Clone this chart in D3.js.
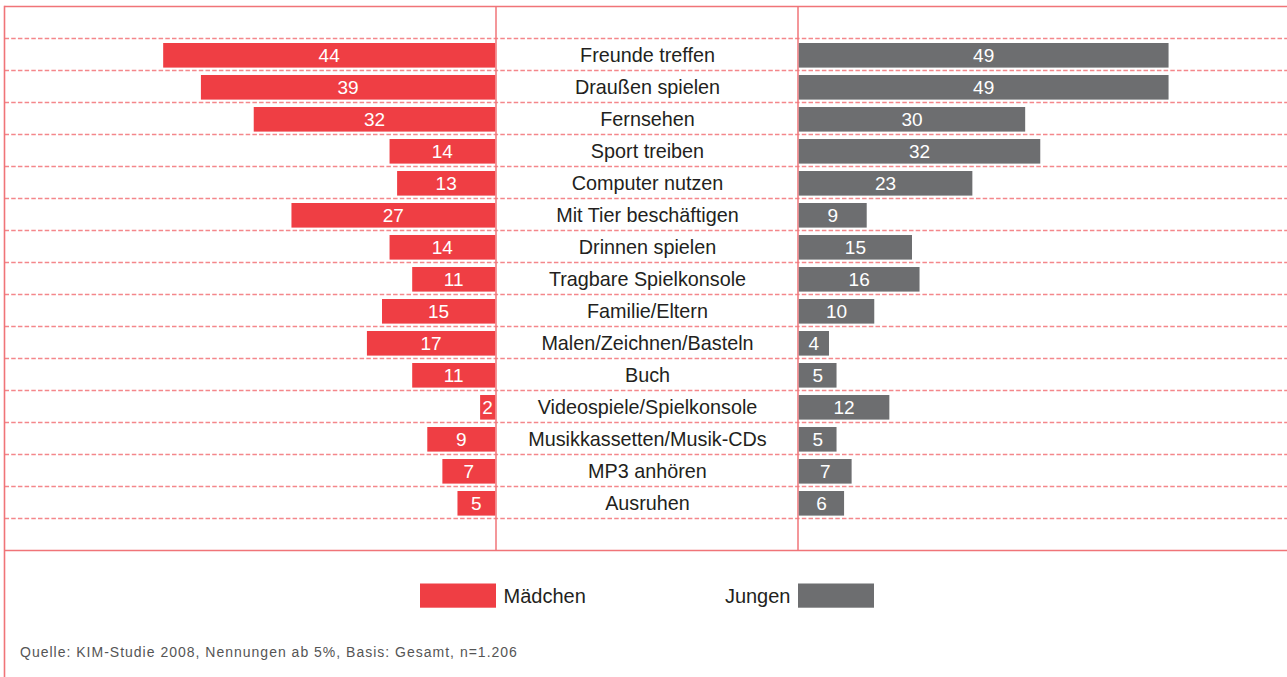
<!DOCTYPE html>
<html>
<head>
<meta charset="utf-8">
<script src="https://cdn.jsdelivr.net/npm/d3@7"></script>
<style>
  html, body { margin: 0; padding: 0; background: #fff; }
  svg { display: block; }
</style>
</head>
<body>
<svg id="chart" width="1287" height="677"></svg>
<script>
const categories = [
  "Freunde treffen", "Draußen spielen", "Fernsehen", "Sport treiben",
  "Computer nutzen", "Mit Tier beschäftigen", "Drinnen spielen",
  "Tragbare Spielkonsole", "Familie/Eltern", "Malen/Zeichnen/Basteln",
  "Buch", "Videospiele/Spielkonsole", "Musikkassetten/Musik-CDs",
  "MP3 anhören", "Ausruhen"
];
const maedchen = [44, 39, 32, 14, 13, 27, 14, 11, 15, 17, 11, 2, 9, 7, 5];
const jungen   = [49, 49, 30, 32, 23, 9, 15, 16, 10, 4, 5, 12, 5, 7, 6];
const seriesNames = ["Mädchen", "Jungen"];
const sourceNote = "Quelle: KIM-Studie 2008, Nennungen ab 5%, Basis: Gesamt, n=1.206";

const W = 1287, H = 677;
const red = "#ef3e44", grey = "#6d6e70", lineCol = "#f07478", dashCol = "#f4878b";
const textCol = "#231f20";
const font = "'Liberation Sans', Arial, sans-serif";

const svg = d3.select("#chart");

const frameLeft = 4.5, frameTop = 6.5, frameBottom = 550.5;
const leftAxisX = 496, rightAxisX = 798;
const leftBarEnd = 495.2, rightBarStart = 798.8;

const y = d3.scaleBand().domain(categories).range([38.5, 518.5]).paddingInner(0).paddingOuter(0);
const x = d3.scaleLinear().domain([0, 50]).range([0, 377.3]);

const barOffset = 4.5, barH = 24.6;

// dashed row separators
const sepYs = categories.map(c => y(c)).concat([y(categories[categories.length - 1]) + y.bandwidth()]);
svg.append("g").selectAll("line").data(sepYs).join("line")
  .attr("x1", frameLeft).attr("x2", W)
  .attr("y1", d => d).attr("y2", d => d)
  .attr("stroke", dashCol).attr("stroke-width", 1.5)
  .attr("stroke-dasharray", "4.5,2.2");

// frame lines
svg.append("line").attr("x1", frameLeft).attr("x2", W).attr("y1", frameTop).attr("y2", frameTop)
  .attr("stroke", lineCol).attr("stroke-width", 1.6);
svg.append("line").attr("x1", frameLeft).attr("x2", W).attr("y1", frameBottom).attr("y2", frameBottom)
  .attr("stroke", lineCol).attr("stroke-width", 1.6);
svg.append("line").attr("x1", frameLeft).attr("x2", frameLeft).attr("y1", frameTop - 0.8).attr("y2", H)
  .attr("stroke", lineCol).attr("stroke-width", 1.6);
[leftAxisX, rightAxisX].forEach(ax => {
  svg.append("line").attr("x1", ax).attr("x2", ax).attr("y1", frameTop).attr("y2", frameBottom)
    .attr("stroke", lineCol).attr("stroke-width", 1.5);
});

// left bars (Mädchen)
const gL = svg.append("g");
gL.selectAll("rect").data(categories).join("rect")
  .attr("x", (c, i) => leftBarEnd - x(maedchen[i]))
  .attr("width", (c, i) => x(maedchen[i]))
  .attr("y", c => y(c) + barOffset)
  .attr("height", barH)
  .attr("fill", red);
gL.selectAll("text").data(categories).join("text")
  .attr("x", (c, i) => leftBarEnd - x(maedchen[i]) / 2)
  .attr("y", c => y(c) + 23.2)
  .attr("text-anchor", "middle")
  .attr("font-family", font).attr("font-size", 19)
  .attr("fill", "#fff")
  .text((c, i) => maedchen[i]);

// right bars (Jungen)
const gR = svg.append("g");
gR.selectAll("rect").data(categories).join("rect")
  .attr("x", rightBarStart)
  .attr("width", (c, i) => x(jungen[i]))
  .attr("y", c => y(c) + barOffset)
  .attr("height", barH)
  .attr("fill", grey);
gR.selectAll("text").data(categories).join("text")
  .attr("x", (c, i) => rightBarStart + x(jungen[i]) / 2)
  .attr("y", c => y(c) + 23.2)
  .attr("text-anchor", "middle")
  .attr("font-family", font).attr("font-size", 19)
  .attr("fill", "#fff")
  .text((c, i) => jungen[i]);

// category labels
svg.append("g").selectAll("text").data(categories).join("text")
  .attr("x", (leftAxisX + rightAxisX) / 2 + 0.5)
  .attr("y", c => y(c) + 23.2)
  .attr("text-anchor", "middle")
  .attr("font-family", font).attr("font-size", 19.8)
  .attr("fill", textCol)
  .text(c => c);

// legend
const legY = 583.5, legH = 24.2, legW = 76;
svg.append("rect").attr("x", 420).attr("y", legY).attr("width", legW).attr("height", legH).attr("fill", red);
svg.append("text").attr("x", 503.5).attr("y", 602.5)
  .attr("font-family", font).attr("font-size", 20).attr("fill", textCol).text(seriesNames[0]);
svg.append("rect").attr("x", 798).attr("y", legY).attr("width", legW).attr("height", legH).attr("fill", grey);
svg.append("text").attr("x", 790.5).attr("y", 602.5).attr("text-anchor", "end")
  .attr("font-family", font).attr("font-size", 20).attr("fill", textCol).text(seriesNames[1]);

// source note
svg.append("text").attr("x", 20).attr("y", 657)
  .attr("font-family", font).attr("font-size", 14).attr("letter-spacing", 1.0)
  .attr("fill", "#555").text(sourceNote);
</script>
</body>
</html>
